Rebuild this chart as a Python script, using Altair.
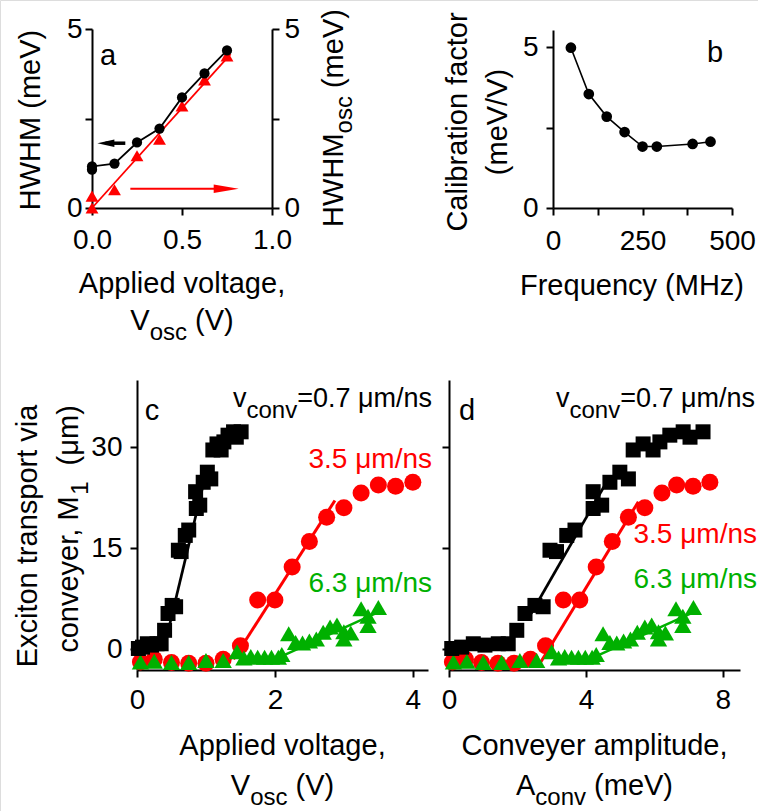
import altair as alt
import pandas as pd

FONT = "Liberation Sans"
RED = "#ff0000"
GREEN = "#00b000"
W, H = 758, 811

# ---------------- panel a ----------------
a_volt = [0.0, 0.0, 0.125, 0.25, 0.375, 0.5, 0.625, 0.75]
a_hwhm = [1.07, 1.16, 1.24, 1.83, 2.22, 3.09, 3.76, 4.40]
a_hwhm_osc = [0.0, 0.33, 0.51, 1.46, 1.92, 2.85, 3.58, 4.25]
a_fit_volt = [0.0, 0.77]
a_fit_osc = [0.0, 4.30]
a_arrow_tip = [0.03, 0.815]
a_arrow_shaft = [0.075, 0.75]
a_arrow_tail = [0.185, 0.213]
a_arrow_level = [1.81, 0.54]

# ---------------- panel b ----------------
b_freq = [50, 100, 150, 200, 250, 290, 390, 440]
b_cal = [4.98, 3.54, 2.84, 2.36, 1.91, 1.91, 1.99, 2.06]

# ---------------- panels c, d ----------------
blk_m1 = [0.1, 0.3, 0.8, 0.6, 0.8, 0.8, 2.8, 5.3, 6.5, 6.3, 14.7, 14.5, 16.9, 17.7,
          23.4, 20.9, 21.4, 24.8, 26.3, 25.3, 29.6, 30.5, 29.6, 30.8, 31.8, 32.3, 31.5, 32.3]
blk_volt = [0.02, 0.08, 0.15, 0.21, 0.29, 0.35, 0.40, 0.45, 0.51, 0.56, 0.60, 0.64, 0.70, 0.75,
            0.85, 0.86, 0.91, 0.96, 1.02, 1.07, 1.10, 1.16, 1.22, 1.26, 1.32, 1.40, 1.44, 1.51]
blk_amp = [0.08, 0.37, 0.71, 1.05, 1.44, 1.73, 1.98, 2.22, 2.51, 2.75, 2.95, 3.14, 3.44, 3.68,
           4.21, 4.21, 4.46, 4.70, 4.99, 5.24, 5.38, 5.67, 5.96, 6.16, 6.45, 6.84, 7.04, 7.42]

red_m1 = [-1.9, -1.5, -2.0, -2.1, -2.1, -1.5, 0.5, 7.3, 7.3, 12.2, 16.0, 19.6, 21.0, 23.2, 24.4, 24.2, 24.8]
red_volt = [0.05, 0.25, 0.5, 0.75, 1.0, 1.25, 1.5, 1.75, 2.0, 2.25, 2.5, 2.75, 3.0, 3.25, 3.5, 3.75, 4.0]
red_amp = [0.1, 0.48, 0.95, 1.43, 1.9, 2.38, 2.82, 3.34, 3.82, 4.3, 4.77, 5.24, 5.72, 6.22, 6.65, 7.13, 7.62]

grn_m1 = [-1.9, -1.8, -2.0, -2.0, -1.7, -1.7, -0.4, -1.3, -1.1, -1.2, -1.2, -1.2, -1.2, -0.8, 2.3,
          1.0, 0.9, 1.2, 1.5, 2.5, 3.3, 3.6, 1.5, 2.6, 2.4, 6.0, 3.5, 4.9, 6.2]
grn_volt = [0.05, 0.25, 0.5, 0.75, 1.0, 1.25, 1.45, 1.55, 1.65, 1.75, 1.85, 1.95, 2.05, 2.1, 2.2,
            2.3, 2.4, 2.5, 2.6, 2.7, 2.8, 2.9, 3.0, 3.0, 3.1, 3.25, 3.35, 3.35, 3.5]
grn_amp = [0.13, 0.52, 1.0, 1.54, 2.07, 2.56, 3.0, 3.2, 3.38, 3.58, 3.78, 3.98, 4.18, 4.3, 4.5,
           4.7, 4.9, 5.1, 5.3, 5.5, 5.72, 5.92, 6.12, 6.12, 6.32, 6.63, 6.83, 6.83, 7.14]

blk_fit_volt = [0.47, 0.95]
blk_fit_volt_m1 = [3.5, 24.0]
blk_fit_amp = [2.4, 4.6]
blk_fit_amp_m1 = [5.3, 24.8]
red_fit_volt = [1.4, 2.87]
red_fit_volt_m1 = [-1.5, 22.1]
red_fit_amp = [2.66, 5.53]
red_fit_amp_m1 = [-2.1, 21.9]
grn_fit_volt = [2.15, 3.5]
grn_fit_amp = [4.4, 7.15]
grn_fit_m1 = [-0.8, 5.5]

# ---------------- panel frames (pixels in the figure) ----------------
FRAME_A = dict(x0=92, x1=272, y0=208, y1=29)
FRAME_B = dict(x0=553, x1=732, y0=208, y1=30)
FRAME_C = dict(x0=137, x1=428, y0=670, y1=380)
FRAME_D = dict(x0=449, x1=740, y0=670, y1=380)

# ---------------- helpers ----------------
ONE = pd.DataFrame({"k": [0]})
CW = {' ': 278, '(': 333, ')': 333, ',': 278, '.': 278, '=': 584, '/': 278,
      'A': 667, 'C': 722, 'E': 667, 'F': 611, 'H': 722, 'M': 833, 'V': 667, 'W': 944,
      'a': 556, 'b': 556, 'c': 500, 'd': 556, 'e': 556, 'f': 278, 'g': 556, 'i': 222,
      'l': 222, 'm': 833, 'n': 556, 'o': 556, 'p': 556, 'q': 556, 'r': 333, 's': 500,
      't': 278, 'u': 556, 'v': 500, 'x': 500, 'y': 500, 'z': 500, 'μ': 576}


def tw(s, fs):
    return sum(CW.get(ch, 556) for ch in s) * fs / 1000.0


def txt(text, x, y, size, color="black", align="center", angle=0, dx=0.0, dy=0.0):
    kw = dict(text=text, fontSize=size, font=FONT, color=color, align=align,
              baseline="alphabetic", dx=dx, dy=dy)
    if angle:
        kw["angle"] = angle
    return alt.Chart(ONE).mark_text(**kw).encode(x=alt.value(x), y=alt.value(y))


def rich(pieces, x, y, angle=0, anchor="center", color="black"):
    total = sum(tw(t, fs) for t, fs, _ in pieces)
    off = {"left": 0.0, "center": -total / 2.0, "right": -total}[anchor]
    out = []
    for t, fs, drop in pieces:
        s = t.lstrip(" ")
        lead = tw(t[: len(t) - len(s)], fs)
        out.append(txt(s, x, y, fs, color, "left", angle, dx=off + lead, dy=drop))
        off += tw(t, fs)
    return out


def ax(values, orient, offset, labels=True, label_expr=None, fmt=None, pad=6):
    kw = dict(values=values, orient=orient, offset=offset, title=None, grid=False,
              tickSize=7, tickWidth=2, domainWidth=2, labelFontSize=28, labelFont=FONT,
              labelPadding=pad, labelFlush=False, labelOverlap=False, domainColor="black",
              tickColor="black", labelColor="black", labels=labels)
    if label_expr:
        kw["labelExpr"] = label_expr
    if fmt:
        kw["format"] = fmt
    return alt.Axis(**kw)


def xscale(frame, domain):
    return alt.Scale(domain=domain, range=[frame["x0"], frame["x1"]], nice=False, zero=False)


def yscale(frame, domain):
    return alt.Scale(domain=domain, range=[frame["y0"], frame["y1"]], nice=False, zero=False)


HIDE_MID = "datum.value == 2.5 ? '' : datum.label"

# ---------------- panel a ----------------
sx_a = xscale(FRAME_A, [0, 1])
sy_a = yscale(FRAME_A, [0, 5])
xa_axis = ax([0, 0.5, 1.0], "bottom", FRAME_A["y0"] - H, fmt=".1f", pad=11)
ya_left = ax([0, 2.5, 5], "left", -FRAME_A["x0"], label_expr=HIDE_MID, pad=3)
ya_right = ax([0, 2.5, 5], "right", FRAME_A["x1"] - W, label_expr=HIDE_MID, pad=5)

df_a = pd.DataFrame({"v": a_volt, "h": a_hwhm, "o": a_hwhm_osc, "i": list(range(len(a_volt)))})
df_afit = pd.DataFrame({"v": a_fit_volt, "o": a_fit_osc})
df_arr = pd.DataFrame({"tip": a_arrow_tip, "s": a_arrow_shaft, "t": a_arrow_tail, "y": a_arrow_level})


def XA(f):
    return alt.X(f, scale=sx_a, axis=xa_axis)


def YA(f, axis=None):
    return alt.Y(f, scale=sy_a, axis=axis)


a_layers = [
    alt.Chart(df_afit).mark_line(color=RED, strokeWidth=1.8).encode(x=XA("v:Q"), y=YA("o:Q", ya_right)),
    alt.Chart(df_a).mark_point(shape="triangle-up", filled=True, color=RED, size=165, opacity=1).encode(
        x=XA("v:Q"), y=YA("o:Q")),
    alt.Chart(df_a).mark_line(color="black", strokeWidth=1.8).encode(
        x=XA("v:Q"), y=YA("h:Q", ya_left), order="i:Q"),
    alt.Chart(df_a).mark_circle(color="black", size=105, opacity=1).encode(x=XA("v:Q"), y=YA("h:Q")),
    alt.Chart(df_arr.iloc[[0]]).mark_rule(color="black", strokeWidth=3.5).encode(
        x=XA("s:Q"), x2="t:Q", y=YA("y:Q")),
    alt.Chart(df_arr.iloc[[1]]).mark_rule(color=RED, strokeWidth=2).encode(
        x=XA("t:Q"), x2="s:Q", y=YA("y:Q")),
    alt.Chart(df_arr.iloc[[0]]).mark_point(shape="M0,0L2,-0.45L2,0.45Z", filled=True, color="black",
                                           size=289, opacity=1).encode(x=XA("tip:Q"), y=YA("y:Q")),
    alt.Chart(df_arr.iloc[[1]]).mark_point(shape="M0,0L-2,-0.34L-2,0.34Z", filled=True, color=RED,
                                           size=625, opacity=1).encode(x=XA("tip:Q"), y=YA("y:Q")),
]
panel_a = alt.layer(*a_layers).resolve_scale(y="independent")

# ---------------- panel b ----------------
df_b = pd.DataFrame({"f": b_freq, "c": b_cal})
xb = alt.X("f:Q", scale=xscale(FRAME_B, [0, 500]),
           axis=ax([0, 125, 250, 375, 500], "bottom", FRAME_B["y0"] - H,
                   label_expr="datum.value % 250 == 0 ? datum.label : ''", pad=12))
yb = alt.Y("c:Q", scale=yscale(FRAME_B, [0, 5.53]),
           axis=ax([0, 2.5, 5], "left", -FRAME_B["x0"], label_expr=HIDE_MID, pad=8))
panel_b = alt.layer(
    alt.Chart(df_b).mark_line(color="black", strokeWidth=1.6).encode(x=xb, y=yb),
    alt.Chart(df_b).mark_circle(color="black", size=115, opacity=1).encode(x=xb, y=yb),
)


# ---------------- panels c & d ----------------
def cd_panel(frame, bx, rx, gx, bfx, bfy, rfx, rfy, gfx, domain, ticks, ylabels):
    X = alt.X("x:Q", scale=xscale(frame, domain), axis=ax(ticks, "bottom", frame["y0"] - H, pad=9))
    Y = alt.Y("y:Q", scale=yscale(frame, [-3.1, 40]),
              axis=ax([0, 15, 30], "left", -frame["x0"], labels=ylabels, pad=8))
    layers = []
    for fx, fy, col, w in ((bfx, bfy, "black", 2.7), (rfx, rfy, RED, 3), (gfx, grn_fit_m1, GREEN, 2.5)):
        layers.append(alt.Chart(pd.DataFrame({"x": fx, "y": fy})).mark_line(color=col, strokeWidth=w)
                      .encode(x=X, y=Y))
    layers.append(alt.Chart(pd.DataFrame({"x": rx, "y": red_m1})).mark_circle(
        color=RED, size=290, opacity=1).encode(x=X, y=Y))
    layers.append(alt.Chart(pd.DataFrame({"x": gx, "y": grn_m1})).mark_point(
        shape="triangle-up", filled=True, color=GREEN, size=300, opacity=1).encode(x=X, y=Y))
    layers.append(alt.Chart(pd.DataFrame({"x": bx, "y": blk_m1})).mark_square(
        color="black", size=225, opacity=1).encode(x=X, y=Y))
    return alt.layer(*layers)


panel_c = cd_panel(FRAME_C, blk_volt, red_volt, grn_volt, blk_fit_volt, blk_fit_volt_m1,
                   red_fit_volt, red_fit_volt_m1, grn_fit_volt, [0, 4.22], [0, 2, 4], True)
panel_d = cd_panel(FRAME_D, blk_amp, red_amp, grn_amp, blk_fit_amp, blk_fit_amp_m1,
                   red_fit_amp, red_fit_amp_m1, grn_fit_amp, [0, 8.5], [0, 4, 8], False)

# ---------------- texts ----------------
texts = [
    # panel a
    txt("HWHM (meV)", 40, 120, 29, angle=270),
    *rich([("HWHM", 29, 0), ("osc", 24, 9), (" (meV)", 29, 0)], 343, 118, angle=270),
    txt("Applied voltage,", 182, 293, 29),
    *rich([("V", 29, 0), ("osc", 24, 10), (" (V)", 29, 0)], 182, 330),
    txt("a", 108, 65, 29),
    # panel b
    txt("Calibration factor", 467, 122, 29, angle=270),
    txt("(meV/V)", 507, 122, 29, angle=270),
    txt("Frequency (MHz)", 632, 295, 29),
    txt("b", 715, 62, 29),
    # panel c
    txt("Exciton transport via", 37, 536, 29, angle=270),
    *rich([("conveyer, M", 29, 0), ("1", 24, 10), ("  (μm)", 29, 0)], 78, 529, angle=270),
    txt("Applied voltage,", 282.5, 755, 29),
    *rich([("V", 29, 0), ("osc", 24, 10), (" (V)", 29, 0)], 282.5, 795),
    txt("c", 152, 420, 29),
    *rich([("v", 27, 0), ("conv", 24, 11), ("=0.7 μm/ns", 27, 0)], 432, 407, anchor="right"),
    txt("3.5 μm/ns", 432, 468, 28, color=RED, align="right"),
    txt("6.3 μm/ns", 432, 592, 28, color=GREEN, align="right"),
    # panel d
    txt("Conveyer amplitude,", 594.5, 755, 29),
    *rich([("A", 29, 0), ("conv", 24, 10), (" (meV)", 29, 0)], 594.5, 795),
    txt("d", 467, 420, 29),
    *rich([("v", 27, 0), ("conv", 24, 11), ("=0.7 μm/ns", 27, 0)], 755, 407, anchor="right"),
    txt("3.5 μm/ns", 757, 543, 28, color=RED, align="right"),
    txt("6.3 μm/ns", 757, 588, 28, color=GREEN, align="right"),
]

chart = alt.layer(panel_a, panel_b, panel_c, panel_d, *texts).resolve_scale(
    x="independent", y="independent"
).properties(
    width=W, height=H, padding=0, autosize=alt.AutoSizeParams(type="none")
).configure_view(strokeWidth=0).configure(background="white")

chart.save("out.html", embed_options={"renderer": "svg", "actions": False})
